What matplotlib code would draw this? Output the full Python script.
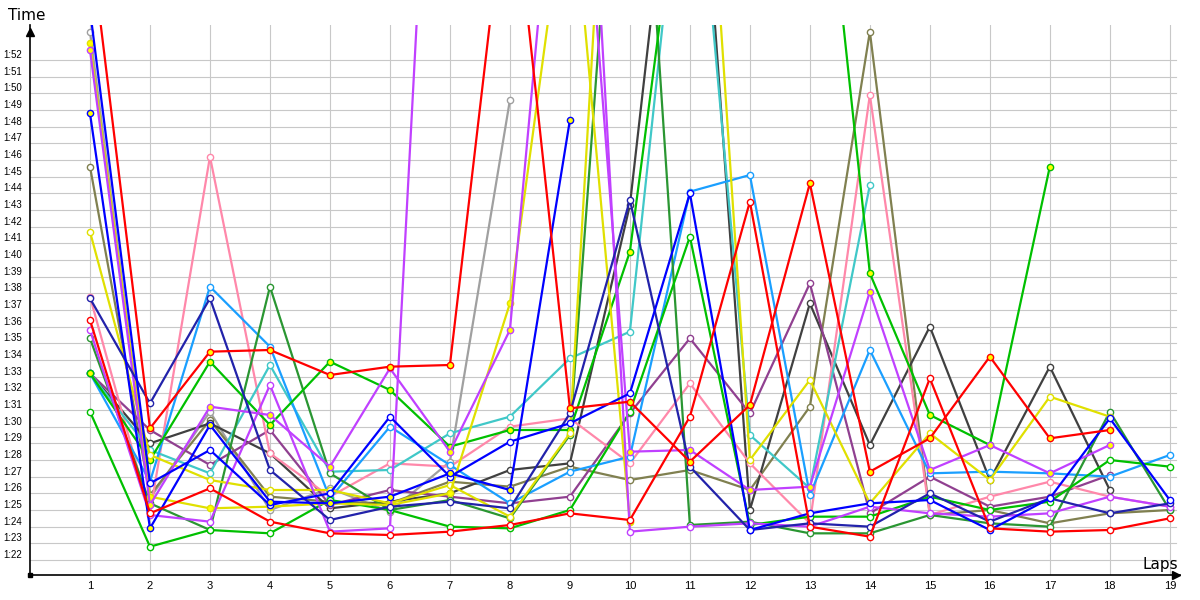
import numpy as np
import matplotlib.pyplot as plt

laps = list(range(1, 20))

# lap times in seconds (1:30.0 -> 90.0), None = lap not driven
red_y = [119.4, 89.9, 94.5, 94.6, 93.1, 93.6, 93.7, 124.5, 91.1, 91.5, 87.9, 91.3, 104.6, 87.3, 89.3, 94.2, 89.3, 89.8, None]
red_w = [96.4, 84.8, 86.3, 84.3, 83.6, 83.5, 83.7, 84.1, 84.8, 84.4, 90.6, 103.5, 84.0, 83.4, 92.9, 83.9, 83.7, 83.8, 84.5]
blue_y = [108.8, 83.9, 90.1, 85.5, 85.4, 85.8, 87.2, 86.2, 108.4, None, None, None, None, None, None, None, None, None, None]
blue_w = [115.0, 86.6, 88.6, 85.3, 86.0, 90.6, 87.0, 89.1, 90.2, 92.0, 104.0, 83.8, 84.8, 85.4, 85.6, 83.8, 85.7, 90.5, 85.6]
navy_w = [97.7, 91.4, 97.7, 87.4, 84.4, 85.2, 85.5, 85.1, 90.8, 103.6, 87.6, 83.8, 84.2, 84.0, 86.0, 84.3, 85.7, 84.8, 85.4]
lblue_w = [93.2, 86.7, 98.4, 94.8, 85.7, 90.0, 87.7, 85.4, 87.3, 88.2, 104.1, 105.1, 85.9, 94.6, 87.2, 87.3, 87.2, 87.0, 88.3]
cyan_w = [93.2, 88.6, 87.2, 93.7, 87.3, 87.4, 89.6, 90.6, 94.1, 95.7, 129.5, 89.5, 86.3, 104.5, None, None, None, None, None]
green_y = [93.2, 88.0, 93.9, 90.1, 93.9, 92.2, 88.8, 89.8, 89.8, 100.5, 128.0, 131.0, 133.0, 99.2, 90.7, 88.9, 105.6, None, None]
green_w = [90.9, 82.8, 83.8, 83.6, 85.6, 85.0, 84.0, 83.9, 85.0, 90.9, 101.4, 84.1, 84.6, 84.6, 85.8, 85.0, 85.5, 88.0, 87.6]
dgreen_w = [95.3, 85.4, 83.8, 98.4, 87.2, 85.0, 85.6, 84.5, 89.5, 138.5, 84.1, 84.3, 83.6, 83.6, 84.7, 84.2, 84.0, 90.9, 85.0]
olive_w = [105.6, 85.9, 90.4, 85.8, 85.5, 85.4, 86.7, 86.4, 87.6, 86.8, 87.4, 86.2, 91.2, 113.7, 84.7, 85.0, 84.2, 84.8, 85.0]
dgray_w = [93.2, 89.0, 90.2, 88.4, 85.1, 85.5, 86.0, 87.4, 87.8, 103.3, 135.0, 85.0, 97.4, 88.9, 96.0, 86.8, 93.6, 86.2, None]
gray_w = [113.7, 85.7, 90.9, 85.0, 86.3, 84.9, 87.9, 109.6, None, None, None, None, None, None, None, None, None, None, None]
pink_w = [97.8, 84.8, 106.2, 88.4, 85.8, 87.8, 87.6, 90.0, 90.5, 87.8, 92.6, 87.8, 84.2, 109.9, 84.7, 85.8, 86.7, 85.8, 85.2]
violet_w = [95.8, 84.7, 84.3, 92.5, 83.7, 83.9, 152.0, 150.0, 147.5, 83.7, 84.0, 84.2, 84.0, 85.2, 84.8, 84.6, 84.8, 85.8, 85.2]
violet_y = [112.6, 85.3, 91.2, 90.7, 87.6, 93.5, 88.5, 95.8, 135.0, 88.5, 88.6, 86.2, 86.4, 98.1, 87.4, 88.9, 87.2, 88.9, None]
purple_w = [93.2, 89.8, 87.7, 89.8, 85.3, 86.2, 85.8, 85.4, 85.8, 90.8, 95.3, 90.8, 98.6, 84.8, 87.0, 85.2, 85.8, 87.1, None]
yellow_w = [101.7, 88.3, 86.8, 86.2, 86.2, 85.4, 86.5, 84.6, 89.6, 151.0, 142.0, 88.0, 92.8, 85.4, 89.6, 86.8, 91.8, 90.6, None]
yellow_y = [113.0, 85.8, 85.1, 85.2, 85.4, 85.3, 86.0, 97.4, 124.0, 84.3, None, None, None, None, None, None, None, None, None]

W = 'white'
Y = '#ffff00'
series = [
    (gray_w, '#a0a0a0', W),
    (olive_w, '#808050', W),
    (dgray_w, '#404040', W),
    (purple_w, '#904090', W),
    (pink_w, '#ff88aa', W),
    (cyan_w, '#40c8c8', W),
    (lblue_w, '#1a9fff', W),
    (dgreen_w, '#2a9632', W),
    (green_w, '#00c000', W),
    (green_y, '#00c000', Y),
    (yellow_w, '#e0e000', W),
    (yellow_y, '#e0e000', Y),
    (violet_w, '#c040ff', W),
    (violet_y, '#c040ff', Y),
    (navy_w, '#2222aa', W),
    (blue_w, '#0000ff', W),
    (blue_y, '#0000ff', Y),
    (red_w, '#ff0000', W),
    (red_y, '#ff0000', Y),
]

sec_ticks = list(range(82, 113))

fig = plt.figure(figsize=(12, 6), dpi=100)
ax = fig.add_axes([30 / 1200, 25 / 600, 1150 / 1200, 550 / 600])
ax.set_xlim(0, 19.17)
ax.set_ylim(81.1, 114.1)

for s in sec_ticks:
    ax.plot([0, 19.1], [s, s], color='#c8c8c8', lw=0.8, zorder=0)
for lap in laps:
    ax.axvline(lap, color='#c8c8c8', lw=0.8, zorder=0)

for vals, col, fill in series:
    ax.plot(laps, np.array(vals, dtype=float), color=col, lw=1.6,
            marker='o', ms=4.5, mfc=fill, mec=col, mew=1.0, zorder=2)

ax.set_xticks(laps)
ax.set_xticklabels([str(l) for l in laps], fontsize=8, family='Liberation Sans')
ax.tick_params(axis='x', length=0, pad=4)
ax.set_yticks([])
for s in sec_ticks:
    ax.text(-0.0069, s, f'1:{s - 60:02d}', transform=ax.get_yaxis_transform(),
            ha='right', va='bottom', fontsize=7, family='Liberation Sans')

for side in ['top', 'right']:
    ax.spines[side].set_visible(False)
for side in ['left', 'bottom']:
    ax.spines[side].set_color('black')
    ax.spines[side].set_linewidth(1.2)

ax.plot([0], [113.7], marker='^', color='black', ms=6, clip_on=False, zorder=5)
ax.plot([19.1], [81.1], marker='>', color='black', ms=6, clip_on=False, zorder=5)
ax.plot([0], [81.1], marker='s', color='black', ms=3, clip_on=False, zorder=5)

fig.text(8 / 1200, 1 - 15 / 600, 'Time', fontsize=11, ha='left', va='center')
fig.text(1143 / 1200, 1 - 565 / 600, 'Laps', fontsize=11, ha='left', va='center')

fig.savefig('out.png', dpi=100)
